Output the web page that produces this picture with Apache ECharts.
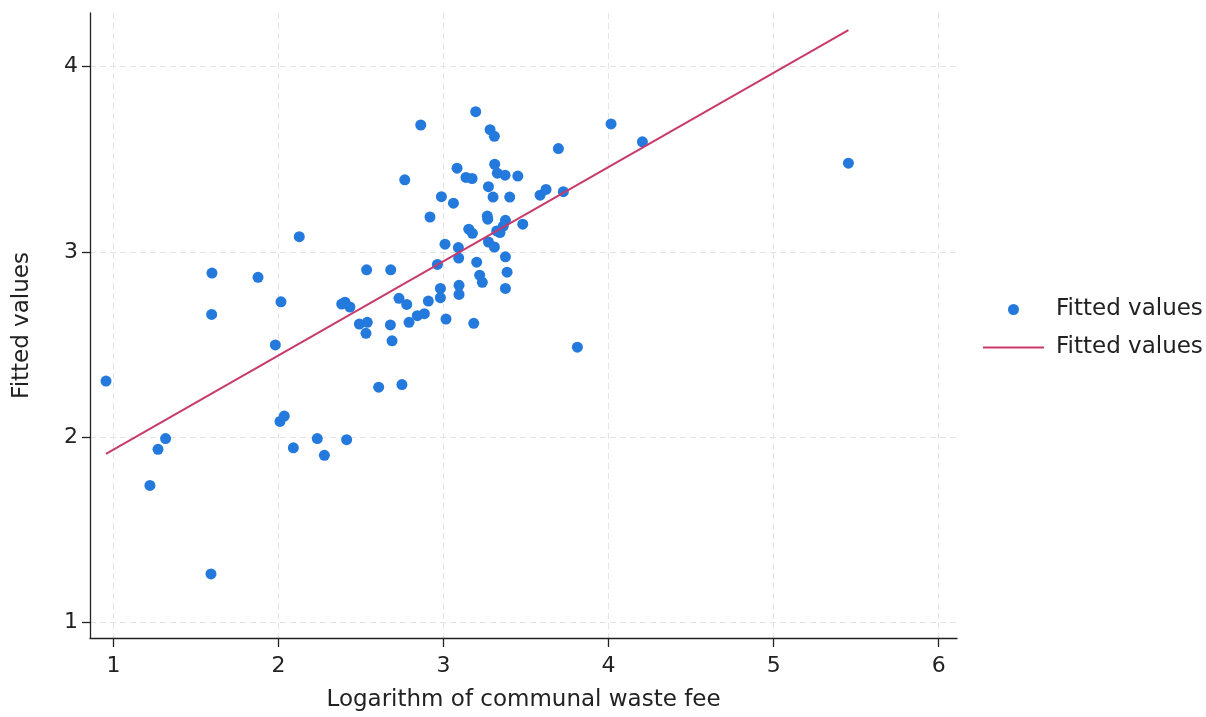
<!DOCTYPE html>
<html>
<head>
<meta charset="utf-8">
<script src="https://cdn.jsdelivr.net/npm/echarts@6/dist/echarts.min.js"></script>
<style>
html,body{margin:0;padding:0;background:#fff;}
#chart{width:1206px;height:717px;}
</style>
</head>
<body>
<div id="chart"></div>
<script>
// Scatter: x = Logarithm of communal waste fee, y = Fitted values
const scatterX = [0.955,1.221,1.270,1.316,1.591,1.595,1.597,1.876,1.981,2.009,2.035,2.015,2.090,2.126,2.235,2.278,2.383,2.403,2.433,2.413,2.490,2.538,2.530,2.534,2.607,2.678,2.688,2.680,2.730,2.777,2.748,2.765,2.791,2.841,2.884,2.862,2.908,2.918,2.963,2.981,2.981,2.987,3.009,3.015,3.060,3.082,3.090,3.092,3.094,3.094,3.136,3.173,3.153,3.175,3.183,3.195,3.201,3.219,3.235,3.265,3.268,3.272,3.272,3.282,3.300,3.308,3.308,3.310,3.322,3.342,3.362,3.326,3.373,3.375,3.375,3.385,3.375,3.401,3.450,3.480,3.585,3.621,3.696,3.726,3.811,4.015,4.205,5.453];
const scatterY = [2.302,1.738,1.933,1.991,1.260,2.662,2.885,2.862,2.497,2.084,2.113,2.730,1.941,3.082,1.991,1.901,2.718,2.728,2.702,1.985,2.610,2.619,2.560,2.903,2.269,2.605,2.519,2.903,2.749,2.716,2.283,3.389,2.619,2.655,2.666,3.685,2.734,3.188,2.932,2.802,2.752,3.298,3.041,2.637,3.263,3.452,3.023,2.966,2.819,2.770,3.402,3.396,3.122,3.100,2.614,3.757,2.944,2.874,2.835,3.193,3.176,3.352,3.053,3.660,3.296,3.624,3.026,3.473,3.113,3.104,3.139,3.425,3.414,3.170,2.973,2.890,2.802,3.296,3.409,3.149,3.306,3.337,3.558,3.325,2.485,3.691,3.594,3.479];
// Fitted line end points
const lineX = [0.955, 5.453];
const lineY = [1.909, 4.197];
// Tick labels
const xTicks = [1,2,3,4,5,6];
const yTicks = [1,2,3,4];

const seriesName = 'Fitted values';
const xTitle = 'Logarithm of communal waste fee';
const yTitle = 'Fitted values';

const FONT = 'DejaVu Sans';
const chart = echarts.init(document.getElementById('chart'), null, {renderer:'canvas'});
const gridLine = {show:true, lineStyle:{color:'#e4e4e4', width:1, type:[6,4]}};
const axisLineStyle = {color:'#222', width:1.3};

chart.setOption({
  animation:false,
  backgroundColor:'#fff',
  grid:{left:90, right:249, top:13, bottom:77, containLabel:false},
  legend:{
    orient:'vertical', left:977, top:293, itemWidth:61, itemHeight:11, itemGap:15,
    textStyle:{fontFamily:FONT, fontSize:23, color:'#222', lineHeight:23, padding:[0,0,0,7]},
    data:[
      {name:seriesName+' ', icon:'circle'},
      {name:seriesName, itemStyle:{opacity:0}}
    ]
  },
  xAxis:{
    type:'value', min:0.858, max:6.111,
    name:xTitle, nameLocation:'middle', nameGap:51,
    nameTextStyle:{fontFamily:FONT, fontSize:23, color:'#222'},
    axisLine:{show:true, onZero:false, lineStyle:axisLineStyle},
    axisTick:{show:true, length:9, customValues:xTicks, lineStyle:axisLineStyle},
    axisLabel:{customValues:xTicks, margin:17, fontFamily:FONT, fontSize:22, color:'#222'},
    splitLine:gridLine
  },
  yAxis:{
    type:'value', min:0.914, max:4.29,
    name:yTitle, nameLocation:'middle', nameGap:56,
    nameTextStyle:{fontFamily:FONT, fontSize:23, color:'#222'},
    axisLine:{show:true, onZero:false, lineStyle:axisLineStyle},
    axisTick:{show:true, length:8, customValues:yTicks, lineStyle:axisLineStyle},
    axisLabel:{customValues:yTicks, margin:12, fontFamily:FONT, fontSize:22, color:'#222'},
    splitLine:gridLine
  },
  series:[
    {
      name:seriesName+' ', type:'scatter', symbol:'circle', symbolSize:11,
      itemStyle:{color:'#2479dc', opacity:1},
      data:scatterX.map((x,i)=>[x, scatterY[i]]),
      z:2
    },
    {
      name:seriesName, type:'line', symbol:'none', showSymbol:false,
      lineStyle:{color:'#c83a6b', width:2},
      itemStyle:{color:'#c83a6b'},
      data:lineX.map((x,i)=>[x, lineY[i]]),
      z:3
    }
  ]
});
</script>
</body>
</html>
